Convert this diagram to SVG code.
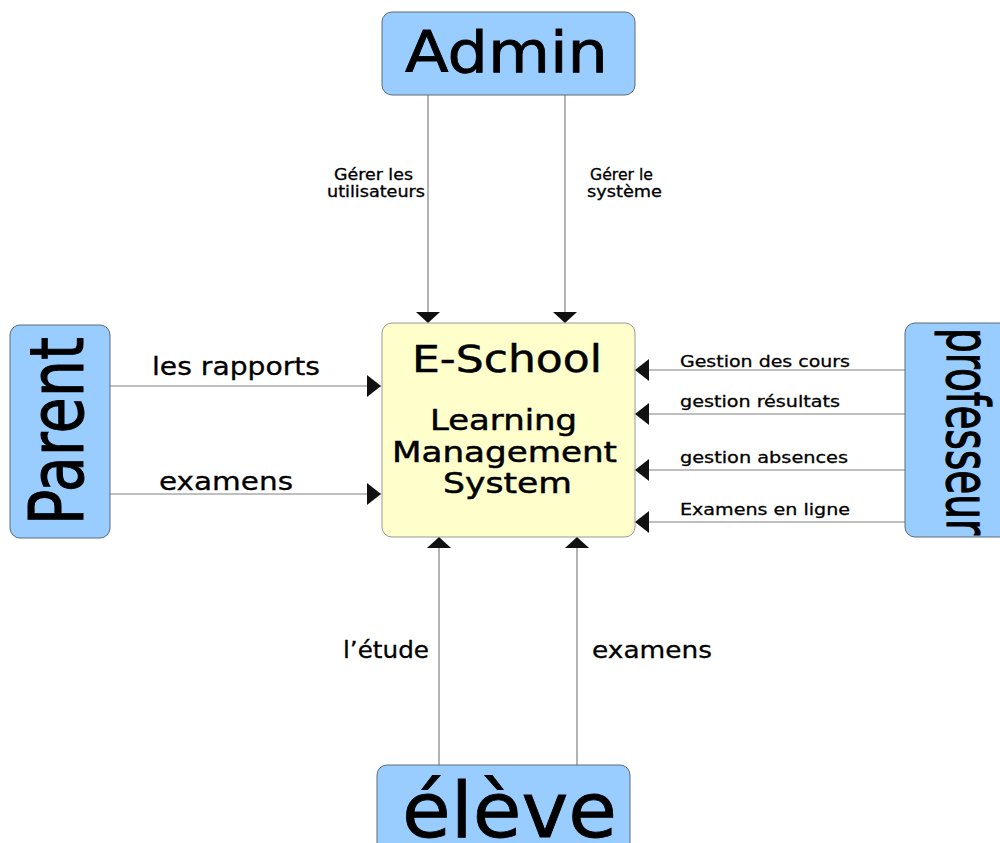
<svg xmlns="http://www.w3.org/2000/svg" width="1000" height="843" viewBox="0 0 1000 843">
<style>
  .actor { fill: #99ccff; stroke: #5a6a7a; stroke-width: 1; }
  .sys { fill: #ffffcc; stroke: #999999; stroke-width: 1; }
  .t { font-family: "DejaVu Sans", Verdana, sans-serif; fill: #000; stroke: #000; stroke-width: 0.8; }
  .m { font-family: "DejaVu Sans", Verdana, sans-serif; fill: #000; stroke: #000; stroke-width: 0.5; }
  .conn { stroke: #808080; stroke-width: 1.2; fill: none; }
  .lbl { font-family: "DejaVu Sans", Verdana, sans-serif; fill: #000; stroke: #000; stroke-width: 0.3; }
</style>
<defs>
  <marker id="arrH" viewBox="0 0 14 22" refX="14" refY="11" markerWidth="14" markerHeight="22" orient="auto" markerUnits="userSpaceOnUse">
    <path d="M0,0 L14,11 L0,22 z" fill="#111"/>
  </marker>
  <marker id="arrV" viewBox="0 0 11 24" refX="11" refY="12" markerWidth="11" markerHeight="24" orient="auto" markerUnits="userSpaceOnUse">
    <path d="M0,0 L11,12 L0,24 z" fill="#111"/>
  </marker>
</defs>
<rect width="1000" height="843" fill="#ffffff"/>

<g id="connectors">
  <line class="conn" x1="428" y1="95" x2="428" y2="323" marker-end="url(#arrV)"/>
  <line class="conn" x1="565" y1="95" x2="565" y2="323" marker-end="url(#arrV)"/>
  <line class="conn" x1="110" y1="386" x2="381" y2="386" marker-end="url(#arrH)"/>
  <line class="conn" x1="110" y1="494" x2="381" y2="494" marker-end="url(#arrH)"/>
  <line class="conn" x1="905" y1="370" x2="635" y2="370" marker-end="url(#arrH)"/>
  <line class="conn" x1="905" y1="414" x2="635" y2="414" marker-end="url(#arrH)"/>
  <line class="conn" x1="905" y1="470" x2="635" y2="470" marker-end="url(#arrH)"/>
  <line class="conn" x1="905" y1="522" x2="635" y2="522" marker-end="url(#arrH)"/>
  <line class="conn" x1="439" y1="765" x2="439" y2="537" marker-end="url(#arrV)"/>
  <line class="conn" x1="577" y1="765" x2="577" y2="537" marker-end="url(#arrV)"/>

  <text class="lbl" font-size="15" x="334" y="180" textLength="79" lengthAdjust="spacingAndGlyphs">Gérer les</text>
  <text class="lbl" font-size="15" x="327" y="197" textLength="98" lengthAdjust="spacingAndGlyphs">utilisateurs</text>
  <text class="lbl" font-size="15" x="590" y="180" textLength="63" lengthAdjust="spacingAndGlyphs">Gérer le</text>
  <text class="lbl" font-size="15" x="587" y="197" textLength="75" lengthAdjust="spacingAndGlyphs">système</text>

  <text class="lbl" font-size="24" x="152" y="375" textLength="168" lengthAdjust="spacingAndGlyphs">les rapports</text>
  <text class="lbl" font-size="24" x="159" y="490" textLength="134" lengthAdjust="spacingAndGlyphs">examens</text>

  <text class="lbl" font-size="16" x="680" y="367" textLength="170" lengthAdjust="spacingAndGlyphs">Gestion des cours</text>
  <text class="lbl" font-size="16" x="680" y="407" textLength="160" lengthAdjust="spacingAndGlyphs">gestion résultats</text>
  <text class="lbl" font-size="16" x="680" y="463" textLength="168" lengthAdjust="spacingAndGlyphs">gestion absences</text>
  <text class="lbl" font-size="16" x="680" y="515" textLength="170" lengthAdjust="spacingAndGlyphs">Examens en ligne</text>

  <text class="lbl" font-size="23" x="343" y="658" textLength="86" lengthAdjust="spacingAndGlyphs">l’étude</text>
  <text class="lbl" font-size="23" x="592" y="658" textLength="120" lengthAdjust="spacingAndGlyphs">examens</text>
</g>

<g id="admin">
  <rect class="actor" x="382" y="12" width="253" height="83" rx="10" ry="10"/>
  <text class="t" font-size="57" x="405" y="72" textLength="203" lengthAdjust="spacingAndGlyphs">Admin</text>
</g>

<g id="eschool">
  <rect class="sys" x="382" y="323" width="253" height="214" rx="10" ry="10"/>
  <text class="m" font-size="37" x="412" y="372" textLength="190" lengthAdjust="spacingAndGlyphs">E-School</text>
  <text class="m" font-size="29" x="430" y="430" textLength="147" lengthAdjust="spacingAndGlyphs">Learning</text>
  <text class="m" font-size="29" x="392" y="462" textLength="225" lengthAdjust="spacingAndGlyphs">Management</text>
  <text class="m" font-size="29" x="443" y="493" textLength="129" lengthAdjust="spacingAndGlyphs">System</text>
</g>

<g id="parent">
  <rect class="actor" x="10" y="325" width="100" height="213" rx="10" ry="10"/>
  <text class="t" font-size="57" transform="translate(83,525) rotate(-90) scale(1,1.31)" x="0" y="0" textLength="188" lengthAdjust="spacingAndGlyphs">Parent</text>
</g>

<g id="professeur">
  <rect class="actor" x="905" y="323" width="110" height="214" rx="10" ry="10"/>
  <text class="t" font-size="39" transform="translate(947,328) rotate(90) scale(1,1.5)" x="0" y="0" textLength="207" lengthAdjust="spacingAndGlyphs">professeur</text>
</g>

<g id="eleve">
  <rect class="actor" x="377" y="765" width="253" height="100" rx="10" ry="10"/>
  <text class="t" font-size="76" x="402" y="837" textLength="215" lengthAdjust="spacingAndGlyphs">élève</text>
</g>
</svg>
